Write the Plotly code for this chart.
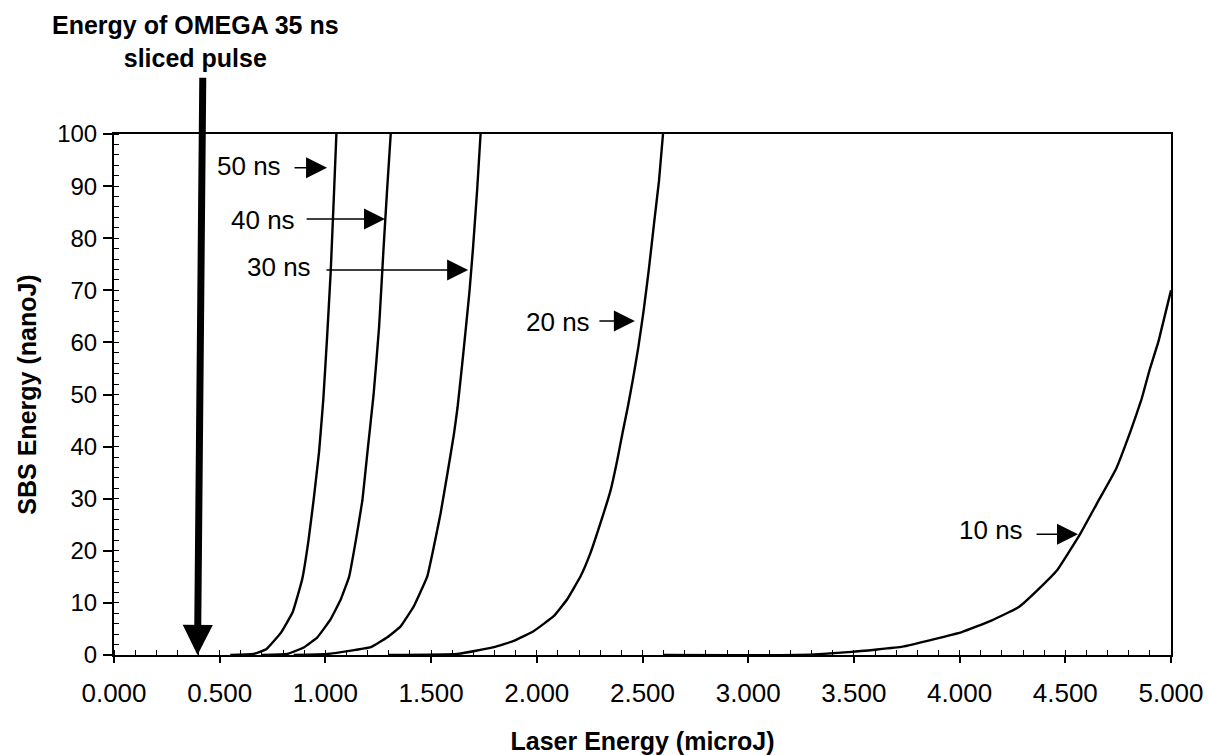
import plotly.graph_objects as go

# ---- data (Laser Energy in microJ, SBS Energy in nanoJ) ----
x_50ns = [0.55, 0.66, 0.72, 0.79, 0.845, 0.89, 0.92, 0.945, 0.97, 0.99, 1.008, 1.025, 1.04, 1.052]
y_50ns = [0.0, 0.2, 1.1, 4.3, 8.2, 14.5, 22.0, 30.0, 39.0, 49.0, 61.0, 73.5, 88.0, 100.0]

x_40ns = [0.70, 0.82, 0.90, 0.962, 1.025, 1.073, 1.112, 1.144, 1.175, 1.199, 1.228, 1.254, 1.275, 1.293, 1.309]
y_40ns = [0.0, 0.2, 1.5, 3.4, 6.9, 10.7, 15.0, 22.0, 29.7, 39.0, 50.0, 63.0, 78.0, 90.0, 100.0]

x_30ns = [0.85, 1.01, 1.215, 1.293, 1.356, 1.419, 1.482, 1.514, 1.545, 1.577, 1.608, 1.625, 1.645, 1.665, 1.682, 1.698, 1.718, 1.734]
y_30ns = [0.0, 0.2, 1.5, 3.4, 5.5, 9.4, 15.1, 21.0, 27.2, 34.8, 42.4, 47.5, 55.0, 63.0, 70.0, 78.0, 89.4, 100.0]

x_20ns = [1.30, 1.623, 1.797, 1.891, 1.986, 2.081, 2.144, 2.207, 2.254, 2.301, 2.349, 2.38, 2.405, 2.43, 2.455, 2.48, 2.505, 2.53, 2.555, 2.578, 2.597]
y_20ns = [0.0, 0.2, 1.5, 2.7, 4.6, 7.5, 10.7, 15.1, 19.6, 25.3, 31.6, 37.3, 42.5, 47.5, 53.0, 59.0, 66.0, 74.0, 83.0, 91.0, 100.0]

x_10ns = [2.60, 3.233, 3.49, 3.73, 4.01, 4.15, 4.28, 4.37, 4.46, 4.57, 4.65, 4.74, 4.81, 4.86, 4.90, 4.94, 5.00]
y_10ns = [0.0, 0.0, 0.6, 1.6, 4.4, 6.6, 9.2, 12.5, 16.2, 23.2, 29.1, 35.7, 43.1, 49.0, 54.9, 60.1, 70.0]

series = [("50 ns", x_50ns, y_50ns), ("40 ns", x_40ns, y_40ns), ("30 ns", x_30ns, y_30ns),
          ("20 ns", x_20ns, y_20ns), ("10 ns", x_10ns, y_10ns)]

# label text anchor (right end) and arrow tail/tip, in data units
label_names = ["50 ns", "40 ns", "30 ns", "20 ns", "10 ns"]
label_x = [0.80, 0.866, 0.941, 2.261, 4.309]
label_y = [93.9, 83.5, 74.5, 64.0, 24.0]
arrow_tail_x = [0.847, 0.904, 0.998, 2.289, 4.357]
arrow_tip_x = [1.008, 1.282, 1.675, 2.464, 4.56]
arrow_y = [93.5, 83.7, 73.9, 64.1, 23.2]

omega_x = 0.395
omega_top_x = 0.42
omega_top_y = 111.1

x_ticks = [0.0, 0.5, 1.0, 1.5, 2.0, 2.5, 3.0, 3.5, 4.0, 4.5, 5.0]
y_ticks = [0, 10, 20, 30, 40, 50, 60, 70, 80, 90, 100]

FONT = "Arial, Liberation Sans, Helvetica, sans-serif"

fig = go.Figure()
for name, xs, ys in series:
    fig.add_trace(go.Scatter(x=xs, y=ys, mode="lines", name=name,
                             line=dict(color="black", width=2.4, shape="spline", smoothing=0.3),
                             showlegend=False))

annotations = []
for name, lx, ly in zip(label_names, label_x, label_y):
    annotations.append(dict(x=lx, y=ly, xref="x", yref="y", text=name, showarrow=False,
                            xanchor="right", yanchor="middle",
                            font=dict(family=FONT, size=26, color="black")))
for tx, hx, ay in zip(arrow_tail_x, arrow_tip_x, arrow_y):
    annotations.append(dict(x=hx, y=ay, xref="x", yref="y", ax=tx, ay=ay, axref="x", ayref="y",
                            text="", showarrow=True, arrowhead=2, arrowsize=2.8, arrowwidth=1.5,
                            arrowcolor="black"))
# big OMEGA arrow
annotations.append(dict(x=omega_x, y=0, xref="x", yref="y", ax=omega_top_x, ay=omega_top_y,
                        axref="x", ayref="y", text="", showarrow=True, arrowhead=2,
                        arrowsize=0.86, arrowwidth=7, arrowcolor="black"))
annotations.append(dict(x=0.0775, y=1.178, xref="paper", yref="paper",
                        text="<b>Energy of OMEGA 35 ns</b><br><b>sliced pulse</b>",
                        showarrow=False, align="center", xanchor="center", yanchor="middle",
                        font=dict(family=FONT, size=25, color="black")))

fig.update_layout(
    width=1209, height=755,
    margin=dict(l=114, r=38, t=134, b=100),
    paper_bgcolor="white", plot_bgcolor="white",
    font=dict(family=FONT, color="black"),
    annotations=annotations,
)
fig.update_xaxes(
    range=[0, 5], tickvals=x_ticks, tickformat=".3f", automargin=False,
    showline=True, linecolor="black", linewidth=2, mirror=True,
    ticks="outside", ticklen=6, tickwidth=1.5, tickcolor="black",
    minor=dict(dtick=0.1, ticks="inside", ticklen=5, tickcolor="black", tickwidth=1),
    showgrid=False, zeroline=False,
    tickfont=dict(family=FONT, size=26, color="black"), ticklabelstandoff=8,
    title=dict(text="<b>Laser Energy (microJ)</b>", font=dict(family=FONT, size=25, color="black"), standoff=27),
)
fig.update_yaxes(
    range=[0, 100], tickvals=y_ticks, automargin=False,
    showline=True, linecolor="black", linewidth=2, mirror=True,
    ticks="outside", ticklen=9, tickwidth=1.5, tickcolor="black",
    minor=dict(dtick=2, ticks="inside", ticklen=5, tickcolor="black", tickwidth=1),
    showgrid=False, zeroline=False,
    tickfont=dict(family=FONT, size=24, color="black"), ticklabelstandoff=1,
    title=dict(text="<b>SBS Energy (nanoJ)</b>", font=dict(family=FONT, size=25, color="black"), standoff=13),
)

fig.write_html("out.html", config={"displayModeBar": False},
               post_script="document.body.style.margin='0px';document.body.style.overflow='hidden';")
